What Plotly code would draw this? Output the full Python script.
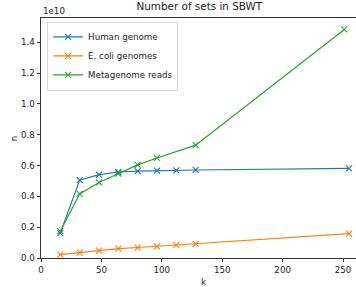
import plotly.graph_objects as go

k_human = [16, 32, 48, 64, 80, 96, 112, 128, 255]
human = [0.162e10, 0.505e10, 0.541e10, 0.558e10, 0.563e10, 0.567e10, 0.569e10, 0.571e10, 0.582e10]
k_ecoli = [16, 32, 48, 64, 80, 96, 112, 128, 255]
ecoli = [0.022e10, 0.035e10, 0.048e10, 0.061e10, 0.068e10, 0.076e10, 0.084e10, 0.091e10, 0.158e10]
k_meta = [16, 32, 48, 64, 80, 96, 128, 251]
meta = [0.175e10, 0.416e10, 0.49e10, 0.548e10, 0.604e10, 0.649e10, 0.732e10, 1.483e10]

x_ticks = [0, 50, 100, 150, 200, 250]
y_ticks = [0, 0.2e10, 0.4e10, 0.6e10, 0.8e10, 1.0e10, 1.2e10, 1.4e10]
y_tick_text = ["0.0", "0.2", "0.4", "0.6", "0.8", "1.0", "1.2", "1.4"]

font = "DejaVu Sans"
fs = 8.7
fig = go.Figure()
for name, xs, ys, col in [("Human genome", k_human, human, "#1f77b4"),
                          ("E. coli genomes", k_ecoli, ecoli, "#ff7f0e"),
                          ("Metagenome reads", k_meta, meta, "#2ca02c")]:
    fig.add_trace(go.Scatter(x=xs, y=ys, name=name, mode="lines+markers",
                             line=dict(color=col, width=1.2),
                             marker=dict(symbol="x-thin", size=6, line=dict(color=col, width=1.1))))

fig.update_layout(
    width=356, height=287,
    margin=dict(l=41, r=0, t=18, b=29, autoexpand=False),
    paper_bgcolor="white", plot_bgcolor="white",
    font=dict(family=font, size=fs, color="#222"),
    title=dict(text="Number of sets in SBWT", x=0.56, xanchor="center", y=0.99, yanchor="top",
               font=dict(family=font, size=10.4, color="#222"), automargin=False),
    showlegend=True,
    legend=dict(x=0.02, y=0.985, xanchor="left", yanchor="top", bgcolor="rgba(255,255,255,0.8)",
                bordercolor="#cccccc", borderwidth=0.8, font=dict(family=font, size=fs, color="#222"),
                itemwidth=30, tracegroupgap=0),
)
fig.update_xaxes(range=[0, 260.7], tickvals=x_ticks, ticks="outside", ticklen=3.5, tickwidth=0.8,
                 tickcolor="#333", showline=True, linecolor="#333", linewidth=0.8, mirror=True,
                 showgrid=False, zeroline=False, automargin=False)
fig.update_yaxes(range=[0, 1.557e10], tickvals=y_ticks, ticktext=y_tick_text, ticks="outside",
                 ticklen=3.5, tickwidth=0.8, tickcolor="#333", showline=True, linecolor="#333",
                 linewidth=0.8, showgrid=False, zeroline=False, automargin=False)
fig.add_annotation(text="1e10", xref="paper", yref="paper", x=0, y=1.0, xanchor="left",
                   yanchor="bottom", showarrow=False, font=dict(family=font, size=fs, color="#222"))
fig.add_annotation(text="k", xref="paper", yref="paper", x=0.515, y=-0.07, xanchor="center",
                   yanchor="top", showarrow=False, font=dict(family=font, size=fs, color="#222"))
fig.add_annotation(text="n", xref="paper", yref="paper", x=-0.085, y=0.5, xanchor="center",
                   yanchor="middle", textangle=-90, showarrow=False,
                   font=dict(family=font, size=fs, color="#222"))
fig.write_html("out.html", config={"displayModeBar": False},
               post_script="document.body.style.margin='0px';")
